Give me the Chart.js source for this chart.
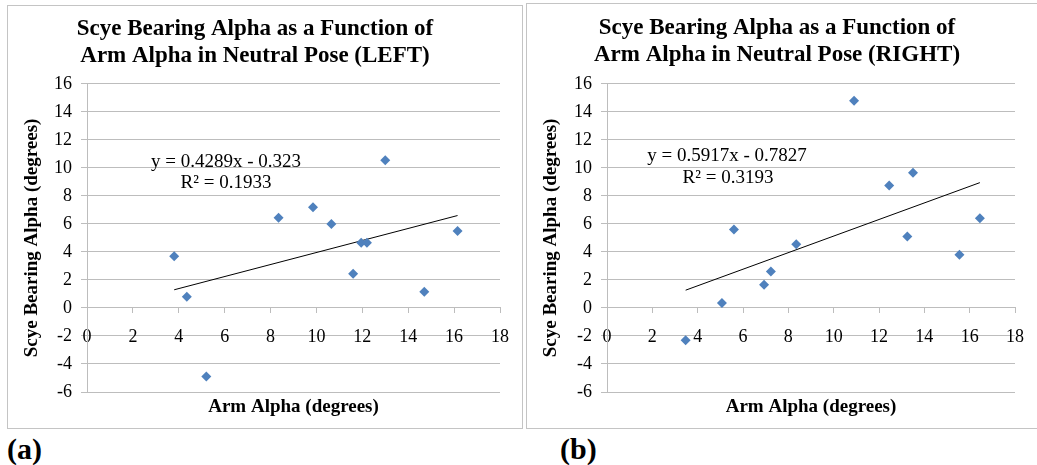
<!DOCTYPE html>
<html>
<head>
<meta charset="utf-8">
<script src="https://cdn.jsdelivr.net/npm/chart.js@4.4.1/dist/chart.umd.min.js"></script>
<style>
  body { margin: 0; background: #fff; width: 1037px; height: 465px; overflow: hidden; position: relative; font-family: "Liberation Serif", serif; }
  .box { position: absolute; border: 1px solid #c4c4c4; background: #fff; }
  #box1 { left: 7px; top: 5px; width: 514px; height: 422px; }
  #box2 { left: 526px; top: 3px; width: 520px; height: 424px; }
  .lbl { position: absolute; font-weight: bold; font-size: 30px; line-height: 1; }
</style>
</head>
<body>
<div class="box" id="box1"><canvas id="leftChart" width="514" height="422"></canvas></div>
<div class="box" id="box2"><canvas id="rightChart" width="510" height="424"></canvas></div>
<div class="lbl" style="left:7px; top:434px;">(a)</div>
<div class="lbl" style="left:560px; top:434px;">(b)</div>
<script>
// left arm
const leftX = [3.8, 4.35, 5.2, 8.35, 9.85, 10.65, 13.0, 11.95, 12.2, 11.6, 14.7, 16.15];
const leftY = [3.7, 0.8, -4.9, 6.45, 7.2, 6.0, 10.55, 4.65, 4.65, 2.45, 1.15, 5.5];
const leftTrendX = [3.8, 16.15];
const leftTrendY = [1.3, 6.6];
const leftEq = ["y = 0.4289x - 0.323", "R\u00b2 = 0.1933"];

// right arm
const rightX = [3.47, 5.07, 5.6, 6.93, 7.23, 8.35, 10.9, 12.45, 13.5, 13.25, 15.55, 16.45];
const rightY = [-2.3, 0.35, 5.6, 1.65, 2.6, 4.55, 14.8, 8.75, 9.65, 5.1, 3.8, 6.4];
const rightTrendX = [3.47, 16.45];
const rightTrendY = [1.27, 8.95];
const rightEq = ["y = 0.5917x - 0.7827", "R\u00b2 = 0.3193"];

const xTicks = [0, 2, 4, 6, 8, 10, 12, 14, 16, 18];
const yTicks = [-6, -4, -2, 0, 2, 4, 6, 8, 10, 12, 14, 16];

const gridGray = "#bdbdbd";
const serif = "'Liberation Serif', 'Times New Roman', serif";

const eqPlugin = {
  id: "eqText",
  afterDatasetsDraw(chart, args, opts) {
    const c = chart.ctx;
    c.save();
    c.font = "19px " + serif;
    c.fillStyle = "#000";
    c.textAlign = "center";
    c.textBaseline = "middle";
    c.fillText(opts.lines[0], opts.x1, opts.y1);
    c.fillText(opts.lines[1], opts.x2, opts.y2);
    c.restore();
  },
};

function makeChart(id, title, xs, ys, tx, ty, eq, pad, eqPos) {
  const pts = xs.map((x, i) => ({ x: x, y: ys[i] }));
  const trend = tx.map((x, i) => ({ x: x, y: ty[i] }));
  return new Chart(document.getElementById(id), {
    type: "scatter",
    data: {
      datasets: [
        {
          data: pts,
          pointStyle: "rectRot",
          pointRadius: 5,
          backgroundColor: "#4f81bd",
          borderColor: "#4f81bd",
          borderWidth: 0,
        },
        {
          type: "line",
          data: trend,
          borderColor: "#000",
          borderWidth: 1,
          pointRadius: 0,
          fill: false,
        },
      ],
    },
    options: {
      responsive: false,
      animation: false,
      layout: { padding: { left: 0, right: pad.right, top: 0, bottom: 0 } },
      plugins: {
        legend: { display: false },
        tooltip: { enabled: false },
        title: {
          display: true,
          text: title,
          color: "#000",
          font: { family: serif, size: 23, weight: "bold", lineHeight: 1.15 },
          padding: { top: pad.titleTop, bottom: pad.titleBottom },
        },
        eqText: { lines: eq, x1: eqPos[0], y1: eqPos[1], x2: eqPos[2], y2: eqPos[3] },
      },
      scales: {
        x: {
          type: "linear",
          position: { y: 0 },
          min: 0,
          max: 18,
          afterBuildTicks: (s) => { s.ticks = xTicks.map((v) => ({ value: v })); },
          ticks: { color: "#000", font: { family: serif, size: 18 }, padding: 13 },
          grid: { drawOnChartArea: false, drawTicks: true, tickLength: 5, color: gridGray },
          border: { color: gridGray },
        },
        x2: {
          type: "linear",
          axis: "x",
          position: "bottom",
          min: 0,
          max: 18,
          ticks: { display: false },
          grid: { display: false },
          border: { display: false },
          title: {
            display: true,
            text: "Arm Alpha (degrees)",
            color: "#000",
            font: { family: serif, size: 19, weight: "bold" },
            padding: { top: 0, bottom: pad.xTitle },
          },
          afterFit: (s) => { s.height = pad.bottom; },
        },
        y: {
          type: "linear",
          min: -6,
          max: 16,
          afterBuildTicks: (s) => { s.ticks = yTicks.map((v) => ({ value: v })); },
          ticks: { color: "#000", font: { family: serif, size: 18 }, padding: 9 },
          grid: { color: gridGray, tickLength: 6 },
          border: { color: gridGray },
          title: {
            display: true,
            text: "Scye Bearing Alpha (degrees)",
            color: "#000",
            font: { family: serif, size: 19, weight: "bold" },
            padding: { top: 13, bottom: 0 },
          },
          afterFit: (s) => { s.width = pad.left; },
        },
      },
    },
    plugins: [eqPlugin],
  });
}

makeChart(
  "leftChart",
  ["Scye Bearing Alpha as a Function of", "Arm Alpha in Neutral Pose (LEFT)"],
  leftX, leftY, leftTrendX, leftTrendY, leftEq,
  { left: 79, right: 20, bottom: 36, titleTop: 10, titleBottom: 15, xTitle: 10 },
  [218, 156, 218, 177]
);

makeChart(
  "rightChart",
  ["Scye Bearing Alpha as a Function of", "Arm Alpha in Neutral Pose (RIGHT)"],
  rightX, rightY, rightTrendX, rightTrendY, rightEq,
  { left: 80, right: 10, bottom: 36, titleTop: 11, titleBottom: 16, xTitle: 10 },
  [200, 152, 201, 174]
);
</script>
</body>
</html>
